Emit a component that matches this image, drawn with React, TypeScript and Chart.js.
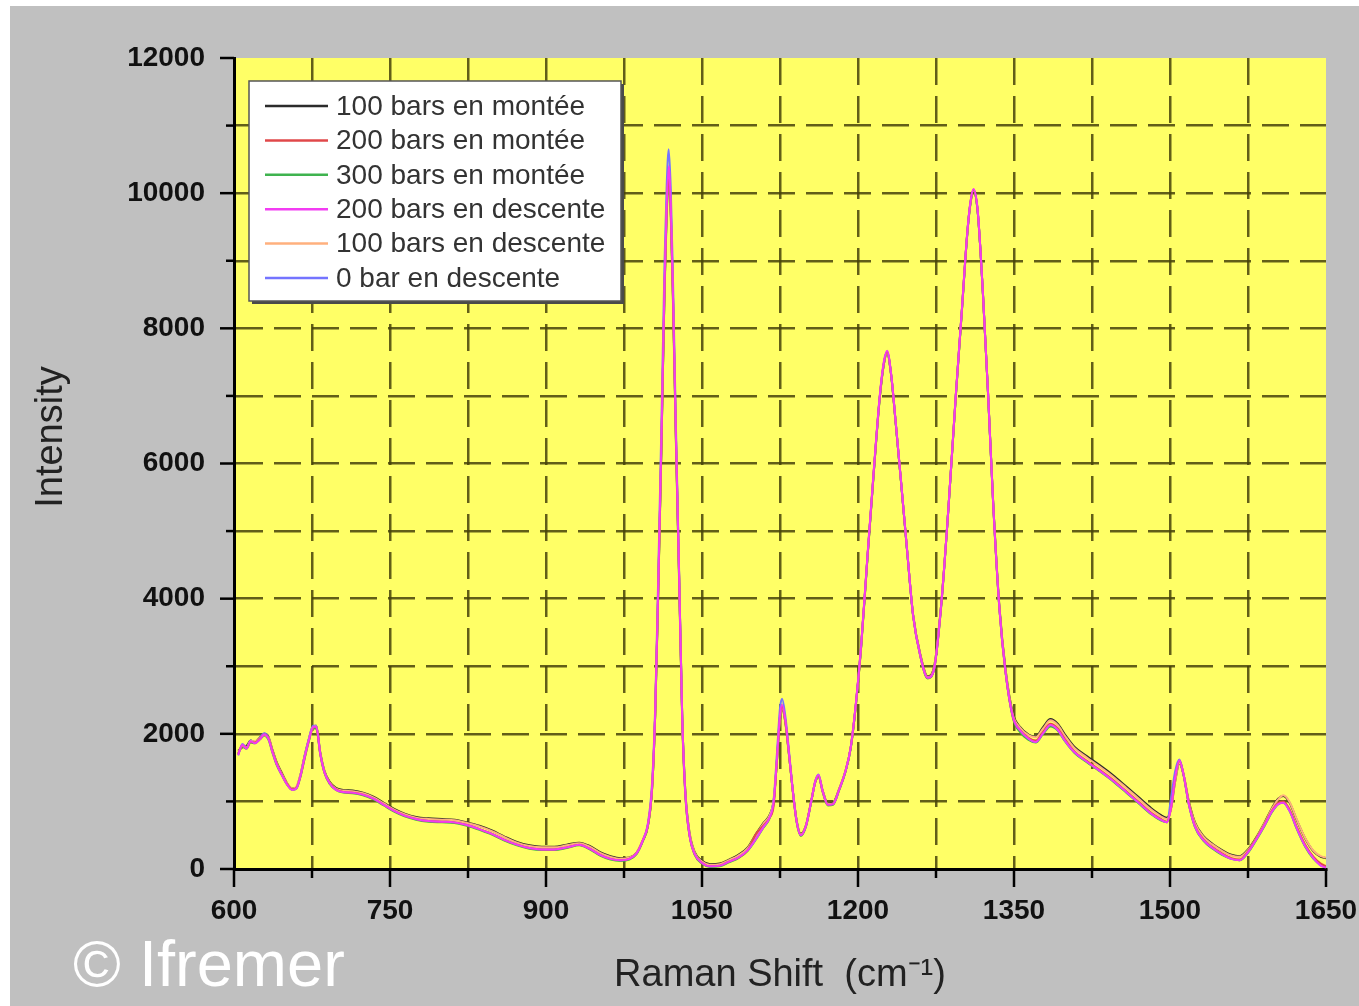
import React, { useEffect, useRef } from 'react';
import { Chart, registerables } from 'chart.js';

Chart.register(...registerables);

// Raman shift positions (cm-1), shared by all spectra
const ramanShift = [
  604, 608, 612, 616, 620, 625, 629, 633, 637, 641, 646, 651, 656, 660, 664, 668, 672, 676, 679, 683, 687, 692, 698,
  705, 714, 724, 734, 744, 754, 764, 775, 787, 800, 812, 824, 836, 848, 860, 872, 884, 896, 908, 920, 932, 942, 952, 962, 972, 980, 987, 993, 998,
  1002, 1005, 1008, 1011, 1014, 1016, 1018, 1020, 1022, 1025, 1028, 1031, 1034, 1038, 1043,
  1050, 1058, 1067, 1076, 1085, 1094, 1102, 1109, 1115, 1119, 1122, 1125, 1127, 1130, 1133, 1137, 1141, 1145, 1150, 1155, 1159, 1162, 1166, 1171, 1176, 1182, 1188, 1193, 1198,
  1203, 1209, 1215, 1221, 1225, 1228, 1232, 1236, 1241, 1247, 1253, 1260, 1267, 1273, 1280, 1287, 1294, 1300, 1305, 1308, 1311, 1315, 1320, 1325, 1330, 1336, 1342, 1349, 1356,
  1364, 1371, 1378, 1385, 1392, 1399, 1408, 1420, 1432, 1445, 1458, 1470, 1482, 1491, 1497, 1501, 1505, 1509, 1513, 1518, 1524, 1532, 1541, 1550, 1559, 1567, 1575, 1583, 1591, 1598, 1604, 1609, 1615, 1622, 1630, 1638, 1645, 1650,
];

const bars100Up = [
  1750, 1800, 1820, 1900, 1880, 1950, 2000, 1960, 1760, 1580, 1420, 1270, 1190, 1210, 1400, 1680, 1920, 2110, 2120, 1720, 1450, 1290, 1200,
  1170, 1160, 1130, 1070, 980, 890, 820, 770, 750, 740, 730, 690, 640, 570, 480, 400, 350, 330, 330, 360, 390, 340, 250, 190, 160, 170, 240, 420, 640,
  1180, 2280, 4150, 6250, 8600, 9750, 10350, 9750, 8550, 6350, 4350, 2250, 1150, 540, 250,
  120, 70, 80, 140, 210, 320, 520, 680, 800, 1020, 1580, 2200, 2380, 2180, 1780, 1200, 720, 520, 650, 1000, 1290, 1370, 1160, 970, 980, 1190, 1450, 1790, 2430,
  3280, 4580, 5830, 6980, 7480, 7630, 7290, 6640, 5790, 4750, 3760, 3170, 2850, 2980, 3920, 5350, 6980, 8280, 9380, 9830, 10030, 9740, 8550, 7060, 5420, 3880, 2940, 2300, 2100,
  1990, 1960, 2100, 2220, 2150, 1990, 1810, 1670, 1540, 1390, 1220, 1060, 900, 800, 760, 900, 1300, 1560, 1400, 1010, 690, 490, 370, 280, 210, 190, 290, 470, 690, 900, 1040, 1080, 980, 720, 450, 260, 180, 160,
];

const bars200Up = [
  1700, 1830, 1790, 1880, 1870, 1930, 1990, 1940, 1740, 1560, 1400, 1260, 1180, 1200, 1380, 1650, 1900, 2090, 2100, 1700, 1430, 1270, 1180,
  1140, 1130, 1100, 1040, 950, 860, 790, 740, 710, 700, 690, 650, 590, 520, 430, 360, 310, 290, 290, 320, 360, 300, 210, 150, 130, 150, 230, 420, 650,
  1200, 2300, 4200, 6300, 8600, 9700, 10250, 9700, 8500, 6300, 4300, 2200, 1100, 500, 220,
  90, 40, 50, 110, 170, 280, 520, 640, 760, 950, 1600, 2250, 2400, 2200, 1800, 1200, 700, 500, 640, 1000, 1300, 1380, 1150, 950, 960, 1180, 1450, 1800, 2450,
  3300, 4600, 5850, 7000, 7500, 7650, 7300, 6650, 5800, 4750, 3750, 3150, 2830, 2950, 3900, 5350, 7000, 8300, 9400, 9850, 10050, 9750, 8550, 7050, 5400, 3850, 2900, 2250, 2050,
  1940, 1900, 2030, 2150, 2080, 1920, 1740, 1600, 1470, 1320, 1150, 990, 830, 740, 700, 900, 1350, 1600, 1400, 980, 640, 440, 320, 230, 160, 140, 260, 450, 660, 860, 980, 1000, 880, 620, 360, 180, 80, 40,
];

const bars300Up = [
  1710, 1810, 1780, 1870, 1860, 1920, 1970, 1920, 1720, 1540, 1390, 1250, 1170, 1190, 1370, 1640, 1890, 2080, 2080, 1690, 1420, 1260, 1170,
  1130, 1120, 1090, 1030, 940, 850, 780, 730, 700, 690, 680, 640, 580, 510, 420, 350, 300, 280, 280, 310, 350, 290, 200, 140, 120, 140, 220, 410, 640,
  1190, 2290, 4180, 6280, 8550, 9650, 10150, 9650, 8450, 6250, 4250, 2180, 1080, 490, 210,
  80, 30, 40, 100, 160, 270, 440, 610, 750, 990, 1600, 2260, 2410, 2210, 1800, 1190, 690, 490, 630, 990, 1290, 1370, 1140, 940, 950, 1170, 1440, 1790, 2440,
  3290, 4590, 5840, 6990, 7490, 7640, 7290, 6640, 5790, 4740, 3740, 3140, 2820, 2940, 3890, 5340, 6990, 8290, 9390, 9840, 10040, 9740, 8540, 7040, 5390, 3840, 2890, 2230, 2020,
  1910, 1870, 2000, 2110, 2050, 1890, 1720, 1580, 1450, 1300, 1130, 970, 810, 720, 690, 920, 1380, 1610, 1390, 960, 620, 420, 300, 210, 150, 130, 240, 430, 640, 840, 960, 980, 860, 590, 330, 150, 60, 30,
];

const bars200Down = [
  1690, 1840, 1780, 1890, 1860, 1920, 1990, 1930, 1730, 1550, 1390, 1250, 1170, 1190, 1380, 1660, 1910, 2100, 2110, 1700, 1430, 1270, 1170,
  1140, 1130, 1100, 1040, 950, 860, 790, 740, 710, 700, 690, 650, 590, 520, 430, 360, 310, 290, 290, 320, 360, 300, 210, 150, 130, 150, 230, 420, 660,
  1220, 2330, 4250, 6380, 8700, 9800, 10400, 9800, 8600, 6380, 4350, 2230, 1110, 500, 220,
  90, 40, 50, 110, 170, 280, 450, 620, 760, 1000, 1620, 2280, 2430, 2220, 1810, 1200, 700, 500, 640, 1000, 1300, 1390, 1150, 950, 960, 1180, 1450, 1800, 2460,
  3310, 4620, 5870, 7020, 7520, 7670, 7310, 6660, 5810, 4760, 3750, 3150, 2830, 2950, 3910, 5360, 7010, 8310, 9410, 9860, 10060, 9760, 8560, 7060, 5400, 3850, 2900, 2250, 2050,
  1930, 1880, 2010, 2130, 2060, 1900, 1730, 1590, 1460, 1310, 1140, 980, 820, 730, 690, 910, 1360, 1610, 1400, 970, 630, 430, 310, 220, 150, 130, 250, 440, 650, 850, 960, 980, 860, 600, 340, 160, 50, 20,
];

const bars100Down = [
  1720, 1820, 1800, 1890, 1890, 1940, 1980, 1950, 1750, 1570, 1410, 1270, 1190, 1220, 1400, 1670, 1910, 2100, 2110, 1710, 1440, 1280, 1190,
  1160, 1150, 1120, 1060, 970, 880, 810, 760, 740, 730, 720, 680, 630, 560, 470, 390, 340, 320, 320, 350, 380, 330, 240, 180, 150, 170, 240, 430, 650,
  1190, 2290, 4180, 6280, 8600, 9720, 10300, 9720, 8520, 6320, 4320, 2230, 1130, 530, 240,
  110, 60, 70, 130, 200, 310, 510, 670, 790, 1010, 1590, 2220, 2390, 2190, 1790, 1200, 710, 510, 650, 1000, 1300, 1380, 1160, 960, 970, 1190, 1460, 1800, 2440,
  3290, 4590, 5840, 6990, 7490, 7640, 7300, 6650, 5800, 4760, 3760, 3160, 2840, 2970, 3910, 5350, 6990, 8290, 9390, 9840, 10040, 9750, 8550, 7050, 5410, 3870, 2920, 2280, 2090,
  1980, 1950, 2080, 2200, 2130, 1970, 1790, 1650, 1520, 1370, 1200, 1040, 880, 780, 740, 880, 1300, 1570, 1410, 1000, 680, 480, 360, 270, 200, 180, 280, 460, 680, 890, 1030, 1090, 990, 730, 460, 270, 190, 170,
];

const bars0Down = [
  1680, 1850, 1800, 1900, 1880, 1950, 2010, 1950, 1750, 1560, 1400, 1260, 1180, 1210, 1400, 1680, 1930, 2120, 2120, 1710, 1440, 1270, 1180,
  1140, 1130, 1100, 1040, 950, 860, 790, 740, 710, 700, 690, 650, 590, 520, 430, 360, 310, 290, 290, 320, 360, 300, 210, 150, 130, 150, 230, 420, 680,
  1280, 2400, 4400, 6600, 9000, 10100, 10650, 10050, 8800, 6500, 4400, 2250, 1120, 510, 230,
  90, 40, 50, 110, 170, 280, 450, 620, 780, 1050, 1700, 2380, 2520, 2280, 1850, 1220, 710, 500, 640, 1000, 1310, 1400, 1160, 950, 960, 1180, 1450, 1800, 2450,
  3300, 4600, 5850, 7000, 7500, 7650, 7300, 6650, 5800, 4750, 3750, 3150, 2830, 2950, 3900, 5350, 7000, 8300, 9400, 9850, 10050, 9750, 8550, 7050, 5400, 3850, 2900, 2250, 2050,
  1930, 1880, 2010, 2130, 2060, 1900, 1730, 1590, 1460, 1310, 1140, 980, 820, 730, 690, 1050, 1450, 1620, 1400, 970, 630, 430, 310, 220, 150, 130, 250, 440, 650, 850, 960, 980, 860, 600, 340, 160, 50, 30,
];

const seriesLabels = [
  '100 bars en montée',
  '200 bars en montée',
  '300 bars en montée',
  '200 bars en descente',
  '100 bars en descente',
  '0 bar en descente',
];
const seriesValues = [bars100Up, bars200Up, bars300Up, bars200Down, bars100Down, bars0Down];
const seriesColors = ['#2b2b2b', '#e0484a', '#3fb34f', '#f23cf2', '#ffb07e', '#7474ff'];
const seriesOrder = [5, 1, 4, 0, 2, 3];

const xMin = 600;
const xMax = 1650;
const xGridStep = 75;
const xLabelStep = 150;
const yMin = 0;
const yMax = 12000;
const yGridStep = 1000;
const yLabelStep = 2000;

const FONT = "'Liberation Sans', Arial, sans-serif";
const GRID_COLOR = 'rgba(70,66,10,0.85)';

export default function App() {
  const ref = useRef<HTMLCanvasElement | null>(null);

  useEffect(() => {
    const canvas = ref.current;
    if (!canvas) return;

    const decor = {
      id: 'decor',
      beforeDraw(chart: any) {
        const { ctx, chartArea } = chart;
        ctx.save();
        ctx.fillStyle = '#ffff66';
        ctx.fillRect(chartArea.left, chartArea.top, chartArea.right - chartArea.left, chartArea.bottom - chartArea.top);
        ctx.restore();
      },
      afterDraw(chart: any) {
        const { ctx, chartArea } = chart;
        const xs = chart.scales.x;
        const ys = chart.scales.y;
        ctx.save();
        // tick marks
        ctx.strokeStyle = '#000';
        ctx.lineWidth = 2.5;
        xs.ticks.forEach((t: any) => {
          const px = xs.getPixelForValue(t.value);
          const len = (t.value - xMin) % xLabelStep === 0 ? 18 : 9;
          ctx.beginPath();
          ctx.moveTo(px, chartArea.bottom);
          ctx.lineTo(px, chartArea.bottom + len);
          ctx.stroke();
        });
        ys.ticks.forEach((t: any) => {
          const py = ys.getPixelForValue(t.value);
          const len = t.value % yLabelStep === 0 ? 14 : 8;
          ctx.beginPath();
          ctx.moveTo(chartArea.left - len, py);
          ctx.lineTo(chartArea.left, py);
          ctx.stroke();
        });

        // legend box
        const lx = chartArea.left + 15;
        const ly = chartArea.top + 23;
        const lw = 372;
        const lh = 220;
        ctx.fillStyle = '#4a4a4a';
        ctx.fillRect(lx + 3, ly + 3, lw, lh);
        ctx.fillStyle = '#ffffff';
        ctx.fillRect(lx, ly, lw, lh);
        ctx.strokeStyle = '#555';
        ctx.lineWidth = 1.5;
        ctx.strokeRect(lx, ly, lw, lh);
        ctx.font = `28px ${FONT}`;
        ctx.textBaseline = 'middle';
        ctx.textAlign = 'left';
        chart.data.datasets.forEach((ds: any, i: number) => {
          const ry = ly + 25 + i * 34.4;
          ctx.strokeStyle = ds.borderColor;
          ctx.lineWidth = 2.5;
          ctx.beginPath();
          ctx.moveTo(lx + 16, ry);
          ctx.lineTo(lx + 79, ry);
          ctx.stroke();
          ctx.fillStyle = '#333';
          ctx.fillText(ds.label, lx + 87, ry + 1);
        });

        // y title
        ctx.save();
        ctx.translate(42, 431);
        ctx.rotate(-Math.PI / 2);
        ctx.font = `38px ${FONT}`;
        ctx.fillStyle = '#222';
        ctx.textAlign = 'center';
        ctx.textBaseline = 'middle';
        ctx.fillText('Intensity', 0, 0);
        ctx.restore();

        // watermark
        ctx.font = `65px ${FONT}`;
        ctx.fillStyle = '#ffffff';
        ctx.textAlign = 'left';
        ctx.textBaseline = 'alphabetic';
        ctx.fillText('© Ifremer', 63, 980);
        ctx.restore();
      },
    };

    const edgeTransparent = (lo: number, hi: number) => (c: any) =>
      c.tick && (c.tick.value === lo || c.tick.value === hi) ? 'rgba(0,0,0,0)' : GRID_COLOR;

    const chart = new Chart(canvas, {
      type: 'line',
      data: {
        datasets: seriesLabels.map((label, i) => ({
          label,
          data: ramanShift
            .map((x, j) => ({ x, y: seriesValues[i][j] }))
            .filter((p) => p.y !== undefined),
          borderColor: seriesColors[i],
          backgroundColor: seriesColors[i],
          borderWidth: 2,
          pointRadius: 0,
          fill: false,
          cubicInterpolationMode: 'monotone' as const,
          order: seriesOrder[i],
        })),
      },
      options: {
        responsive: false,
        animation: false,
        layout: { padding: { top: 52, right: 33, left: 0, bottom: 0 } },
        plugins: {
          legend: { display: false },
          tooltip: { enabled: false },
        },
        scales: {
          x: {
            type: 'linear',
            min: xMin,
            max: xMax,
            afterFit: (s: any) => {
              s.height = 137;
              s.paddingLeft = 0;
              s.paddingRight = 0;
            },
            ticks: {
              stepSize: xGridStep,
              autoSkip: false,
              maxRotation: 0,
              padding: 25,
              color: '#111',
              font: { family: FONT, size: 28, weight: 'bold' },
              callback: (v: any) => ((Number(v) - xMin) % xLabelStep === 0 ? String(v) : ''),
            },
            grid: {
              color: edgeTransparent(xMin, xMax),
              lineWidth: 2.5,
              drawTicks: false,
            },
            border: { display: true, color: '#000', width: 3, dash: [27, 11] },
            title: {
              display: true,
              text: 'Raman Shift  (cm⁻¹)',
              color: '#222',
              font: { family: FONT, size: 38 },
              padding: { top: 0, bottom: 8 },
            },
          },
          y: {
            type: 'linear',
            min: yMin,
            max: yMax,
            afterFit: (s: any) => {
              s.width = 224;
              s.paddingTop = 0;
              s.paddingBottom = 0;
            },
            ticks: {
              stepSize: yGridStep,
              autoSkip: false,
              padding: 29,
              color: '#111',
              font: { family: FONT, size: 28, weight: 'bold' },
              callback: (v: any) => (Number(v) % yLabelStep === 0 ? String(v) : ''),
            },
            grid: {
              color: edgeTransparent(yMin, yMax),
              lineWidth: 2.5,
              drawTicks: false,
            },
            border: { display: true, color: '#000', width: 3, dash: [27, 11] },
          },
        },
      },
      plugins: [decor],
    } as any);

    return () => chart.destroy();
  }, []);

  return (
    <div
      style={{
        position: 'absolute',
        left: 10,
        top: 6,
        width: 1349,
        height: 1000,
        background: '#c0c0c0',
      }}
    >
      <canvas ref={ref} width={1349} height={1000} style={{ display: 'block', width: 1349, height: 1000 }} />
    </div>
  );
}
